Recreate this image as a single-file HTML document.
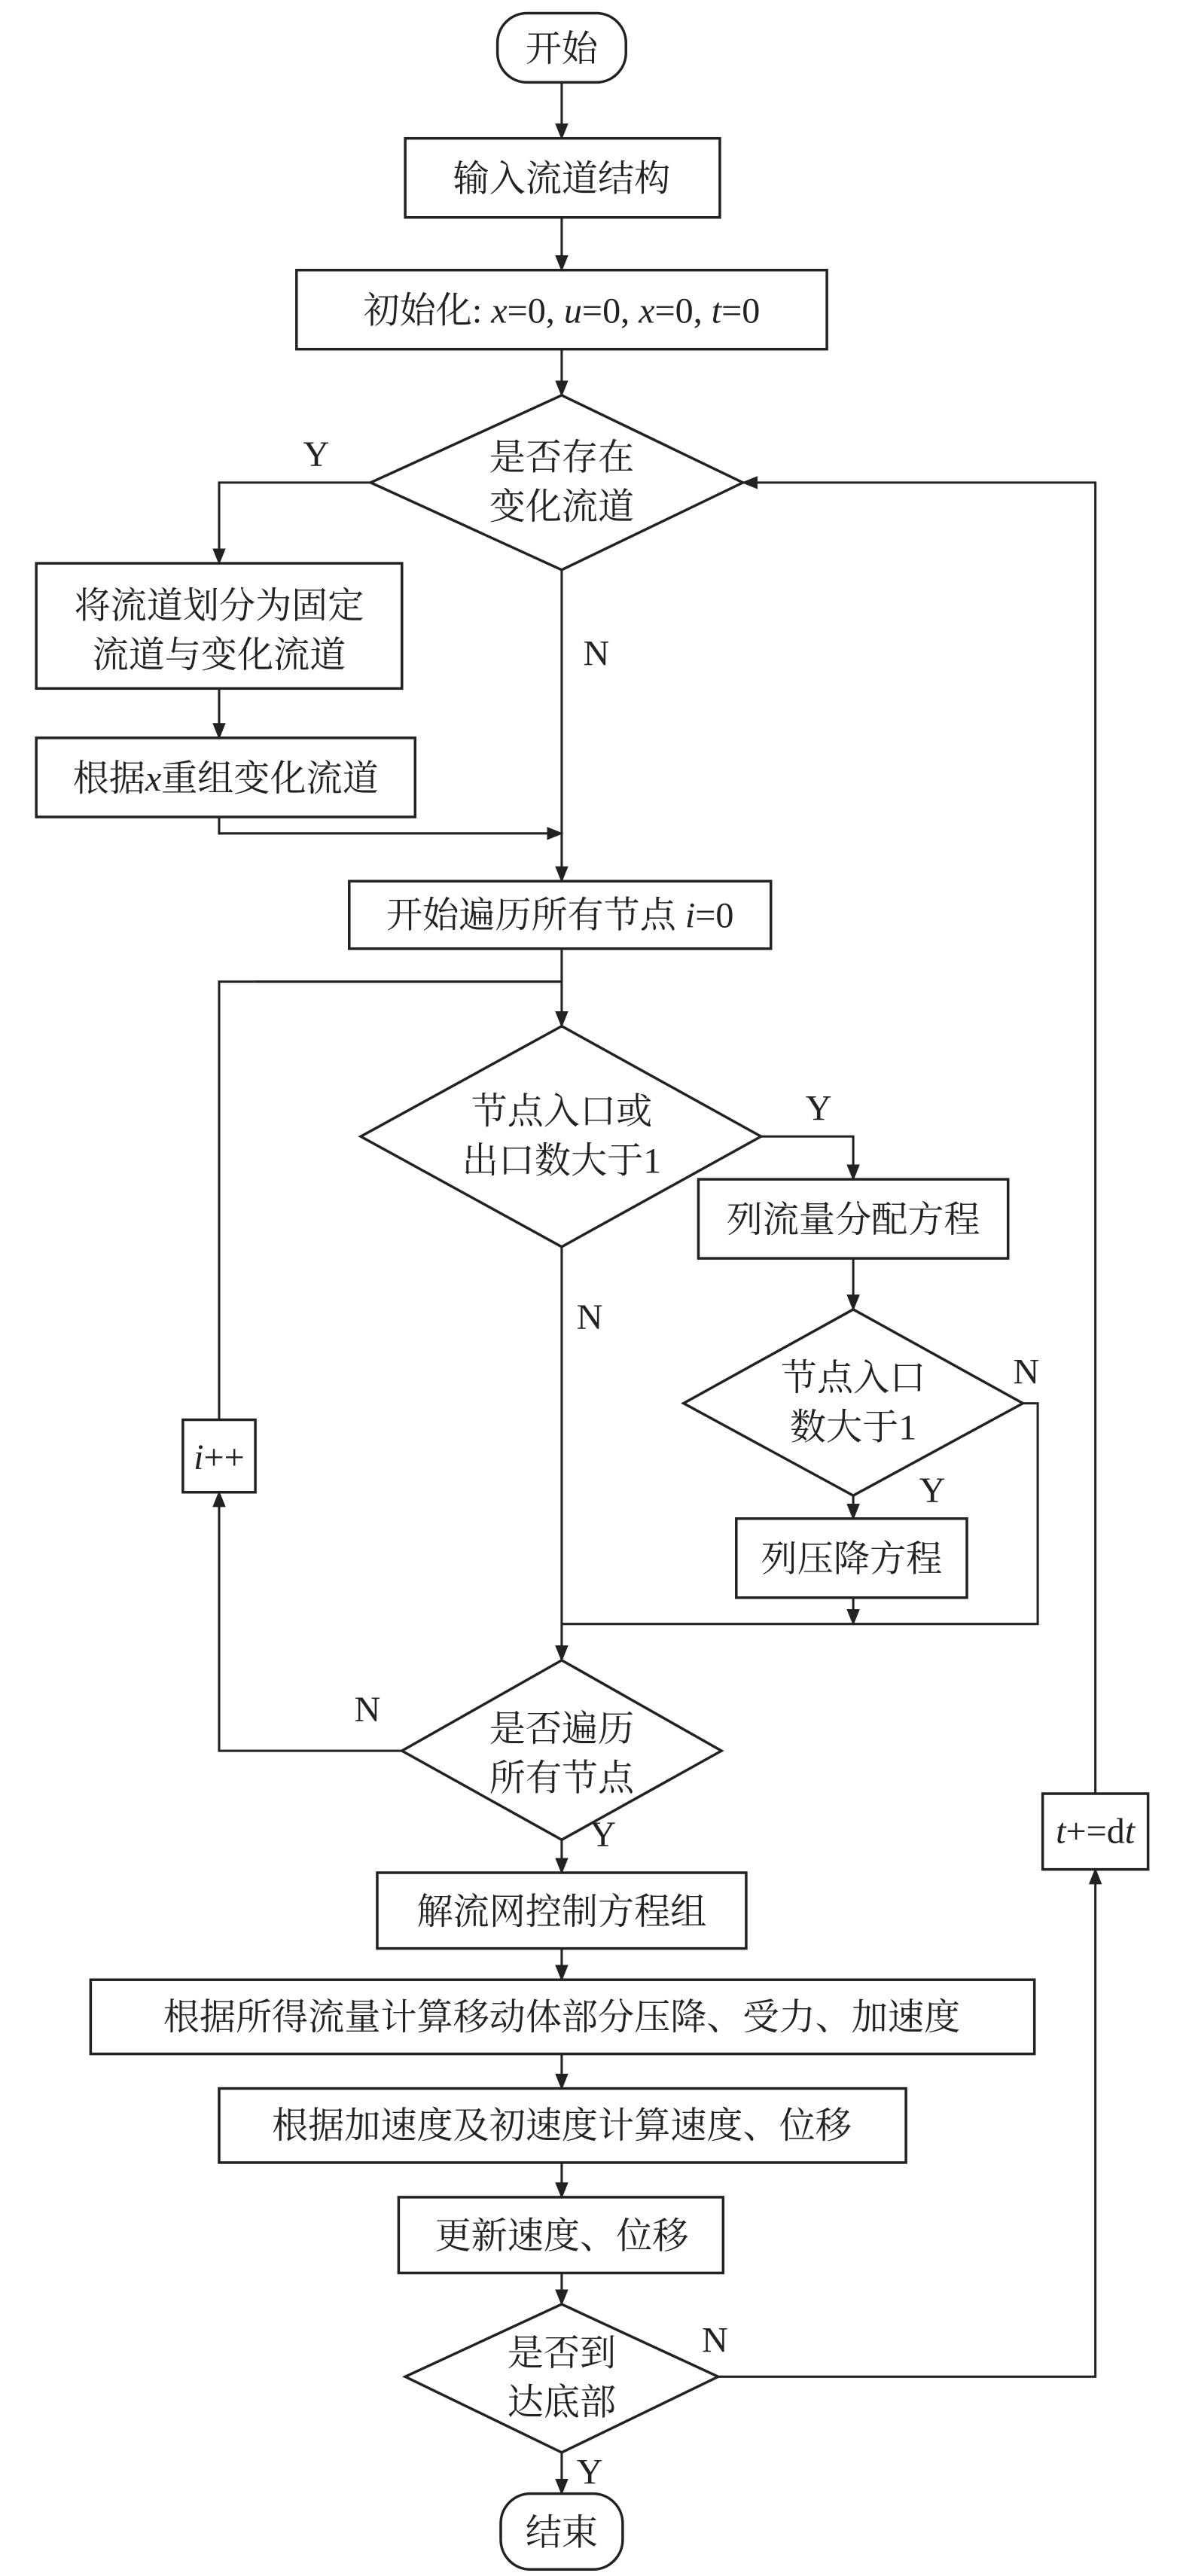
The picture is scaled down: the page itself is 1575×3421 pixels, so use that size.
<!DOCTYPE html>
<html><head><meta charset="utf-8"><style>
html,body{margin:0;padding:0;background:#fff;}
svg{display:block;}
text{font-family:"Liberation Serif","Noto Serif CJK SC",serif;font-size:22px;fill:#222;}
.i{font-style:italic;}
</style></head><body>
<svg width="1575" height="3421" viewBox="0 0 720 1564" xmlns="http://www.w3.org/2000/svg">
<defs><marker id="a" markerWidth="10" markerHeight="10" refX="9" refY="5" orient="auto" markerUnits="userSpaceOnUse"><path d="M0,1 L10,5 L0,9 Z" fill="#222"/></marker></defs>
<g fill="none" stroke="#222" stroke-width="1.6">
<rect x="302" y="8" width="78" height="42" rx="18"/>
<rect x="246" y="84" width="191" height="48"/>
<rect x="180" y="164" width="322" height="48"/>
<polygon points="341,240 451,293 341,346 225,293"/>
<rect x="22" y="342" width="222" height="76"/>
<rect x="22" y="448" width="230" height="48"/>
<rect x="212" y="535" width="256" height="41"/>
<polygon points="341,623 462,690 341,757 219,690"/>
<rect x="424" y="716" width="188" height="48"/>
<polygon points="518,795 621,852 518,908 415,852"/>
<rect x="447" y="922" width="140" height="48"/>
<rect x="111" y="862" width="44" height="44"/>
<polygon points="341,1008 438,1063 341,1117 244,1063"/>
<rect x="229" y="1137" width="224" height="46"/>
<rect x="55" y="1202" width="573" height="45"/>
<rect x="133" y="1268" width="417" height="45"/>
<rect x="242" y="1334" width="197" height="46"/>
<polygon points="341,1399 436,1443 341,1489 246,1443"/>
<rect x="633" y="1089" width="64" height="46"/>
<rect x="304" y="1514" width="74" height="46" rx="18"/>
</g>
<g fill="none" stroke="#222" stroke-width="1.4" marker-end="url(#a)">
<path d="M341,50 V84"/>
<path d="M341,132 V164"/>
<path d="M341,212 V240"/>
<path d="M225,293 H133 V342"/>
<path d="M133,418 V448"/>
<path d="M133,496 V506 H341"/>
<path d="M341,346 V535"/>
<path d="M341,576 V623"/>
<path d="M155,596 H341" marker-end="none"/>
<path d="M133,862 V596 H341" marker-end="none"/>
<path d="M462,690 H518 V716"/>
<path d="M518,764 V795"/>
<path d="M518,908 V922"/>
<path d="M621,852 H630 V986 H341" marker-end="none"/>
<path d="M518,970 V986"/>
<path d="M341,757 V1008"/>
<path d="M244,1063 H133 V906"/>
<path d="M341,1117 V1137"/>
<path d="M341,1183 V1202"/>
<path d="M341,1247 V1268"/>
<path d="M341,1313 V1334"/>
<path d="M341,1380 V1399"/>
<path d="M436,1443 H665 V1135"/>
<path d="M665,1089 V293 H451"/>
<path d="M341,1489 V1514"/>
</g>
<g text-anchor="middle">
<text x="341" y="37">开始</text>
<text x="341" y="116">输入流道结构</text>
<text x="341" y="196">初始化: <tspan class="i">x</tspan>=0, <tspan class="i">u</tspan>=0, <tspan class="i">x</tspan>=0, <tspan class="i">t</tspan>=0</text>
<text x="341" y="285">是否存在</text>
<text x="341" y="315">变化流道</text>
<text x="133" y="375">将流道划分为固定</text>
<text x="133" y="405">流道与变化流道</text>
<text x="137" y="480">根据<tspan class="i">x</tspan>重组变化流道</text>
<text x="340" y="563">开始遍历所有节点 <tspan class="i">i</tspan>=0</text>
<text x="341" y="682">节点入口或</text>
<text x="341" y="712">出口数大于1</text>
<text x="518" y="748">列流量分配方程</text>
<text x="518" y="844">节点入口</text>
<text x="518" y="874">数大于1</text>
<text x="517" y="954">列压降方程</text>
<text x="133" y="892"><tspan class="i">i</tspan>++</text>
<text x="341" y="1057">是否遍历</text>
<text x="341" y="1087">所有节点</text>
<text x="341" y="1168">解流网控制方程组</text>
<text x="341" y="1232">根据所得流量计算移动体部分压降、受力、加速度</text>
<text x="341" y="1298">根据加速度及初速度计算速度、位移</text>
<text x="341" y="1365">更新速度、位移</text>
<text x="341" y="1436">是否到</text>
<text x="341" y="1466">达底部</text>
<text x="665" y="1119"><tspan class="i">t</tspan>+=d<tspan class="i">t</tspan></text>
<text x="341" y="1545">结束</text>
<text x="192" y="283">Y</text>
<text x="362" y="404">N</text>
<text x="497" y="680">Y</text>
<text x="358" y="807">N</text>
<text x="623" y="840">N</text>
<text x="566" y="912">Y</text>
<text x="223" y="1045">N</text>
<text x="366" y="1121">Y</text>
<text x="434" y="1428">N</text>
<text x="358" y="1508">Y</text>
</g>
</svg>
</body></html>
